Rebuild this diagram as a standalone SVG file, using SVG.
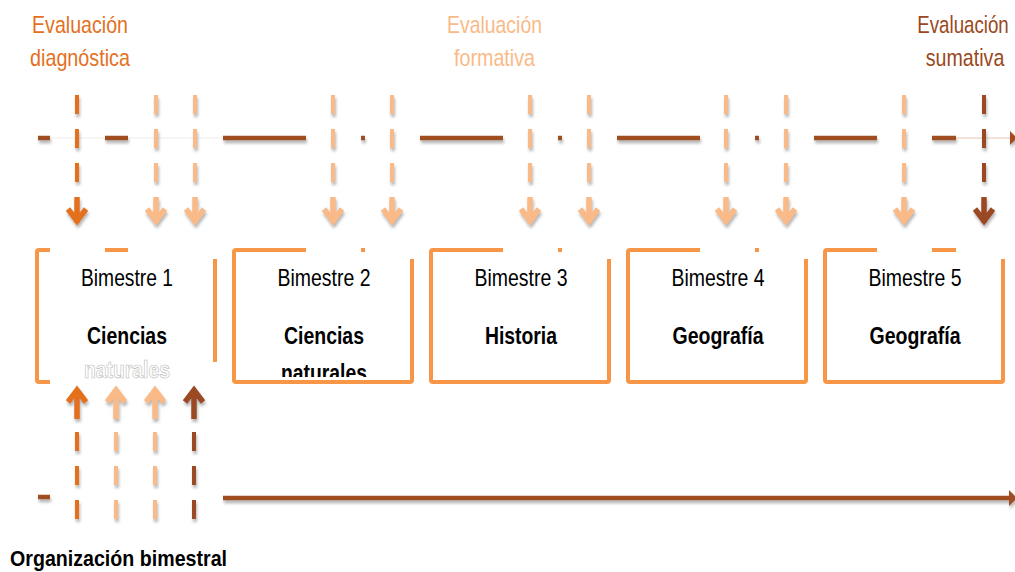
<svg xmlns="http://www.w3.org/2000/svg" width="1015" height="572" viewBox="0 0 1015 572">
<defs>
<filter id="sh" x="-50%" y="-50%" width="200%" height="200%">
<feDropShadow dx="1" dy="3" stdDeviation="1.4" flood-color="#777" flood-opacity="0.55"/>
</filter>
<clipPath id="clipBox2"><rect x="234" y="250" width="180" height="127"/></clipPath>
<clipPath id="clipOrg"><rect x="0" y="550" width="400" height="22"/></clipPath>
<style>
.lbl{font-family:"Liberation Sans",Arial,sans-serif;font-size:24px;text-anchor:middle}
.bim{font-family:"Liberation Sans",Arial,sans-serif;font-size:24px;fill:#000;text-anchor:middle}
.sub{font-family:"Liberation Sans",Arial,sans-serif;font-size:24px;font-weight:bold;fill:#000;text-anchor:middle}
.box{fill:#fff;stroke:#F79646;stroke-width:4}
.occ{fill:#fff;stroke:none}
.tl{stroke:#A04E22;stroke-width:4.5;fill:none}
.dash{stroke-width:4;fill:none;stroke-dasharray:19 15}
.head{stroke-width:5.5;fill:none;stroke-linecap:butt;stroke-linejoin:miter}
.c1{stroke:#E4701E}
.c2{stroke:#FABA88}
.c3{stroke:#9A4820}
</style>
</defs>

<g id="titles">
<text class="lbl" x="80" y="33" fill="#E4701E" textLength="96" lengthAdjust="spacingAndGlyphs">Evaluación</text>
<text class="lbl" x="80" y="66" fill="#E4701E" textLength="100" lengthAdjust="spacingAndGlyphs">diagnóstica</text>
<text class="lbl" x="494.5" y="33" fill="#FABA88" textLength="95" lengthAdjust="spacingAndGlyphs">Evaluación</text>
<text class="lbl" x="494.5" y="66" fill="#FABA88" textLength="81" lengthAdjust="spacingAndGlyphs">formativa</text>
<text class="lbl" x="0" y="33" fill="#9A4820" transform="translate(963 0) scale(0.78 1)">Evaluación</text>
<text class="lbl" x="0" y="66" fill="#9A4820" transform="translate(965 0) scale(0.82 1)">sumativa</text>
</g>

<g id="connectors">
<line x1="50" y1="138" x2="223" y2="138" stroke="#F4ECE8" stroke-width="1"/>
<line x1="956" y1="138" x2="1010" y2="138" stroke="#E9C6B4" stroke-width="1"/>
<g filter="url(#sh)">
<path class="tl" d="M38 138H50M105 138H128M223 138H306M361 138H365M420 138H503M558 138H562M617 138H700M755 138H759M814 138H877M932 138H956"/>
<polygon points="1010,131 1017,138 1010,145" fill="#A04E22"/>
</g>
<g filter="url(#sh)">
<path class="tl" d="M38 497H50M223 498H1010"/>
<polygon points="1009,490 1017,498 1009,506" fill="#A04E22"/>
</g>
<g filter="url(#sh)">
<path class="dash c1" d="M77 95V182"/><path class="head c1" d="M77 197V223M68 209L77 221L86 209"/>
<path class="dash c2" d="M156 95V182"/><path class="head c2" d="M156 197V223M147 209L156 221L165 209"/>
<path class="dash c2" d="M195 95V182"/><path class="head c2" d="M195 197V223M186 209L195 221L204 209"/>
<path class="dash c2" d="M333 95V182"/><path class="head c2" d="M333 197V223M324 209L333 221L342 209"/>
<path class="dash c2" d="M392 95V182"/><path class="head c2" d="M392 197V223M383 209L392 221L401 209"/>
<path class="dash c2" d="M530 95V182"/><path class="head c2" d="M530 197V223M521 209L530 221L539 209"/>
<path class="dash c2" d="M589 95V182"/><path class="head c2" d="M589 197V223M580 209L589 221L598 209"/>
<path class="dash c2" d="M726 95V182"/><path class="head c2" d="M726 197V223M717 209L726 221L735 209"/>
<path class="dash c2" d="M786 95V182"/><path class="head c2" d="M786 197V223M777 209L786 221L795 209"/>
<path class="dash c2" d="M904 95V182"/><path class="head c2" d="M904 197V223M895 209L904 221L913 209"/>
<path class="dash c3" d="M984 95V182"/><path class="head c3" d="M984 197V223M975 209L984 221L993 209"/>
</g>
</g>

<g id="bimestre1">
<rect class="box" x="37" y="250" width="178" height="132" rx="2"/>
<rect class="occ" x="50" y="246" width="55" height="9"/>
<rect class="occ" x="128" y="246" width="90" height="13"/>
<rect class="occ" x="50" y="362" width="167" height="22" stroke="#F5E8DE" stroke-width="1"/>
<text class="bim" x="127" y="286" textLength="92" lengthAdjust="spacingAndGlyphs">Bimestre 1</text>
<text class="sub" x="127" y="344" textLength="80" lengthAdjust="spacingAndGlyphs">Ciencias</text>
<text class="sub" x="127" y="378" stroke="#BBBBBB" stroke-width="0.7" textLength="86" lengthAdjust="spacingAndGlyphs" style="fill:#fff">naturales</text>
</g>

<g id="bimestre2">
<rect class="box" x="234" y="250" width="178" height="132" rx="2"/>
<rect class="occ" x="306" y="246" width="55" height="9"/>
<rect class="occ" x="365" y="246" width="50" height="13"/>
<text class="bim" x="324" y="286" textLength="93" lengthAdjust="spacingAndGlyphs">Bimestre 2</text>
<text class="sub" x="324" y="344" textLength="80" lengthAdjust="spacingAndGlyphs">Ciencias</text>
<text class="sub" x="324" y="381" textLength="86" lengthAdjust="spacingAndGlyphs" clip-path="url(#clipBox2)">naturales</text>
</g>

<g id="bimestre3">
<rect class="box" x="431" y="250" width="178" height="132" rx="2"/>
<rect class="occ" x="503" y="246" width="55" height="9"/>
<rect class="occ" x="562" y="246" width="50" height="13"/>
<text class="bim" x="521" y="286" textLength="93" lengthAdjust="spacingAndGlyphs">Bimestre 3</text>
<text class="sub" x="521" y="344" textLength="72" lengthAdjust="spacingAndGlyphs">Historia</text>
</g>

<g id="bimestre4">
<rect class="box" x="628" y="250" width="178" height="132" rx="2"/>
<rect class="occ" x="700" y="246" width="55" height="9"/>
<rect class="occ" x="759" y="246" width="50" height="13"/>
<text class="bim" x="718" y="286" textLength="93" lengthAdjust="spacingAndGlyphs">Bimestre 4</text>
<text class="sub" x="718" y="344" textLength="91" lengthAdjust="spacingAndGlyphs">Geografía</text>
</g>

<g id="bimestre5">
<rect class="box" x="825" y="250" width="178" height="132" rx="2"/>
<rect class="occ" x="877" y="246" width="55" height="9"/>
<rect class="occ" x="956" y="246" width="50" height="13"/>
<text class="bim" x="915" y="286" textLength="93" lengthAdjust="spacingAndGlyphs">Bimestre 5</text>
<text class="sub" x="915" y="344" textLength="91" lengthAdjust="spacingAndGlyphs">Geografía</text>
</g>

<g id="bottom-arrows" filter="url(#sh)">
<path class="head c1" d="M77 391V419M68 402L77 390L86 402"/><path class="dash c1" d="M77 432V520"/>
<path class="head c2" d="M116 391V419M107 402L116 390L125 402"/><path class="dash c2" d="M116 432V520"/>
<path class="head c2" d="M155 391V419M146 402L155 390L164 402"/><path class="dash c2" d="M155 432V520"/>
<path class="head c3" d="M194 391V419M185 402L194 390L203 402"/><path class="dash c3" d="M194 432V520"/>
</g>

<g id="caption">
<text x="10" y="566" font-family="'Liberation Sans',Arial,sans-serif" font-size="22" font-weight="bold" fill="#000" textLength="217" lengthAdjust="spacingAndGlyphs" clip-path="url(#clipOrg)">Organización bimestral</text>
</g>
</svg>
